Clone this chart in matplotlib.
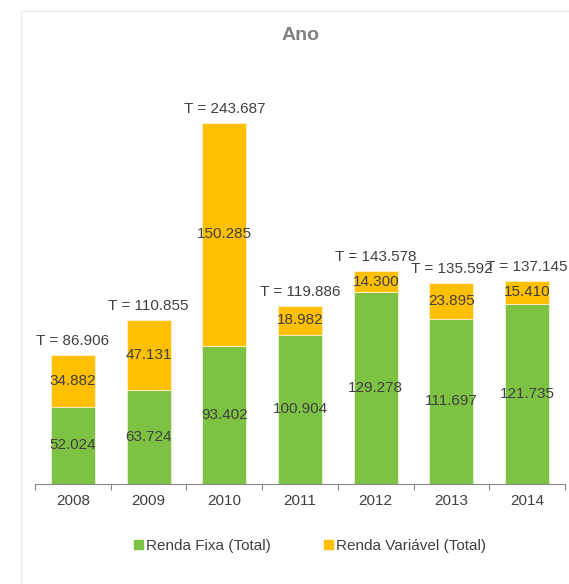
import matplotlib.pyplot as plt
from matplotlib.patches import Rectangle, Patch
import numpy as np

plt.rcParams['font.family'] = ['Liberation Sans', 'DejaVu Sans']

anos = ['2008', '2009', '2010', '2011', '2012', '2013', '2014']
renda_fixa = [52.024, 63.724, 93.402, 100.904, 129.278, 111.697, 121.735]
renda_var = [34.882, 47.131, 150.285, 18.982, 14.300, 23.895, 15.410]
totais = [86.906, 110.855, 243.687, 119.886, 143.578, 135.592, 137.145]

verde = '#7DC242'
amarelo = '#FFC000'
texto = '#404040'

def fmt(v):
    return f'{v:.3f}'

fig = plt.figure(figsize=(5.69, 5.84), dpi=100)
fig.patches.append(Rectangle((21 / 569, -0.1), 1.2, 1 - 11 / 584 + 0.1,
                             transform=fig.transFigure, fill=False,
                             edgecolor='#EFEFEF', linewidth=1))

ax = fig.add_axes([35 / 569, 1 - 484 / 584, 530 / 569, 424 / 584])
x = np.arange(len(anos))
ax.bar(x, renda_fixa, width=0.58, color=verde, edgecolor='#E8F3DA', linewidth=0.6)
ax.bar(x, renda_var, width=0.58, bottom=renda_fixa, color=amarelo,
       edgecolor='#FFF2CC', linewidth=0.6)

for i in range(len(anos)):
    ax.text(x[i], renda_fixa[i] / 2, fmt(renda_fixa[i]), ha='center', va='center',
            fontsize=11, color=texto)
    ax.text(x[i], renda_fixa[i] + renda_var[i] / 2, fmt(renda_var[i]), ha='center',
            va='center', fontsize=11, color=texto)
    ax.annotate('T = ' + fmt(totais[i]), (x[i], totais[i]), xytext=(0, 5),
                textcoords='offset points', ha='center', va='bottom',
                fontsize=11, color=texto, annotation_clip=False)

ax.set_xlim(-0.5, len(anos) - 0.5)
ax.set_ylim(0, 286.2)
ax.set_xticks(np.arange(-0.5, len(anos)), labels=[])
ax.set_xticks(x, labels=anos, minor=True)
ax.tick_params(axis='x', which='major', length=4, color='#888888', direction='out')
ax.tick_params(axis='x', which='minor', length=0, labelsize=11, labelcolor=texto, pad=7)
ax.set_yticks([])
for s in ['top', 'right', 'left']:
    ax.spines[s].set_visible(False)
ax.spines['bottom'].set_color('#888888')

fig.text(301 / 569, 1 - 35 / 584, 'Ano', ha='center', va='center', fontsize=14,
         fontweight='bold', color='#808080')

handles = [Patch(color=verde, label='Renda Fixa (Total)'),
           Patch(color=amarelo, label='Renda Variável (Total)')]
fig.legend(handles=handles, loc='center', bbox_to_anchor=(310 / 569, 1 - 546 / 584),
           ncol=2, frameon=False, fontsize=11, handlelength=0.6, handleheight=0.6,
           handletextpad=0.2, columnspacing=3.5, labelcolor=texto)

fig.savefig('out.png', dpi=100)
